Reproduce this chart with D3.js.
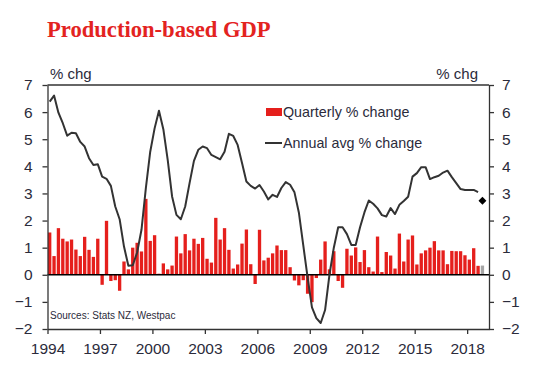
<!DOCTYPE html>
<html><head><meta charset="utf-8">
<script src="https://cdn.jsdelivr.net/npm/d3@7"></script>
<style>
body{margin:0;background:#fff;}
svg text{font-family:"Liberation Sans",Arial,sans-serif;}
</style></head>
<body><svg id="c" width="541" height="376"></svg>
<script>
// ---- data ----
const startYear = 1994;
const nCategories = 101; // 1994Q1 .. 2019Q1
const quarters = d3.range(nCategories).map(i => (startYear + Math.floor(i/4)) + "Q" + (i%4+1));
const quarterlyChange = [
 1.56,0.69,1.72,1.33,1.23,1.30,0.93,0.69,1.40,0.92,
 0.66,1.33,-0.37,1.99,-0.23,-0.20,-0.59,0.49,0.20,1.00,
 1.18,0.86,2.80,1.25,1.46,0.04,0.42,0.20,0.34,1.41,
 0.79,1.50,0.90,1.33,1.14,1.36,0.59,0.45,2.10,1.30,
 1.72,0.92,0.23,0.38,1.15,1.67,0.39,-0.34,1.66,0.53,
 0.63,0.79,1.08,0.91,0.91,0.28,-0.21,-0.39,-0.20,-0.70,
 -1.01,-0.12,0.56,1.23,0.20,0.87,-0.23,-0.48,0.96,0.71,
 1.01,0.47,0.91,0.28,0.12,1.41,0.10,0.84,0.71,0.23,
 1.52,0.49,1.30,1.45,0.38,0.79,0.90,1.00,1.24,0.90,
 0.90,0.39,0.88,0.87,0.87,0.72,0.56,0.98,0.33,0.34];
const forecastIndex = 99; // grey bar
const annualAvgChange = [
 6.39,6.61,5.98,5.59,5.13,5.24,5.22,4.90,4.73,4.30,
 4.05,4.08,3.62,3.54,3.28,2.52,2.05,1.04,0.33,0.35,
 0.82,1.66,3.20,4.54,5.40,6.05,5.37,4.24,2.89,2.21,
 2.05,2.52,3.38,4.20,4.61,4.73,4.67,4.42,4.34,4.26,
 4.54,5.20,5.12,4.79,4.12,3.44,3.28,3.18,3.31,3.07,
 2.78,2.95,2.87,3.20,3.42,3.32,3.04,2.30,1.10,-0.10,
 -1.20,-1.60,-1.78,-1.30,0.00,1.00,1.75,1.75,1.50,1.10,
 1.10,1.75,2.30,2.74,2.62,2.45,2.20,2.15,2.46,2.24,
 2.58,2.72,2.88,3.62,3.75,3.97,3.97,3.53,3.60,3.65,
 3.77,3.84,3.60,3.38,3.16,3.13,3.13,3.13,3.05];
const annualForecast = {index: 99, value: 2.73};
const yTicks = [-2,-1,0,1,2,3,4,5,6,7];
const xTickYears = [1994,1997,2000,2003,2006,2009,2012,2015,2018];
const legendLabels = ["Quarterly % change","Annual avg % change"];

// ---- layout ----
const L = 47.5, R = 489, T = 85, B = 329;
const svg = d3.select("#c");
const x = d3.scaleBand().domain(quarters).range([L, R]).paddingInner(0.24).paddingOuter(0.12);
const xt = d3.scaleLinear().domain([startYear, startYear + nCategories/4]).range([L, R]);
const y = d3.scaleLinear().domain([-2, 7]).range([B, T]);
const textCol = "#2b2b3b";

// title
svg.append("text").attr("x", 47).attr("y", 37).text("Production-based GDP")
  .attr("fill", "#e3231f").style("font-family", '"Liberation Serif","Times New Roman",serif')
  .style("font-weight", "bold").style("font-size", "22.6px");
svg.append("text").attr("x", 50).attr("y", 79).text("% chg").attr("fill", textCol).style("font-size", "15px");
svg.append("text").attr("x", 478).attr("y", 79).attr("text-anchor", "end").text("% chg").attr("fill", textCol).style("font-size", "15px");

// bars
svg.append("g").selectAll("rect").data(quarterlyChange).join("rect")
  .attr("x", (d,i) => x(quarters[i]))
  .attr("width", x.bandwidth())
  .attr("y", d => y(Math.max(0,d)))
  .attr("height", d => Math.abs(y(d) - y(0)))
  .attr("fill", (d,i) => i === forecastIndex ? "#a5a5a5" : "#e51f1c");

// zero line
svg.append("line").attr("x1", L).attr("x2", R).attr("y1", y(0)).attr("y2", y(0)).attr("stroke", "#000").attr("stroke-width", 1.5);

// annual line
const line = d3.line().x((d,i) => x(quarters[i]) + x.bandwidth()/2).y(d => y(d));
svg.append("path").datum(annualAvgChange).attr("d", line).attr("fill", "none")
  .attr("stroke", "#333").attr("stroke-width", 2).attr("stroke-linejoin", "round");

// forecast diamond
svg.append("path").attr("d", d3.symbol(d3.symbolDiamond2, 40)())
  .attr("transform", `translate(${x(quarters[annualForecast.index]) + x.bandwidth()/2},${y(annualForecast.value)})`)
  .attr("fill", "#000");

// frame top
svg.append("line").attr("x1", L).attr("x2", R).attr("y1", T).attr("y2", T).attr("stroke", "#333").attr("stroke-width", 1.3);

// axes
const styleAxis = g => {
  g.selectAll("path.domain").attr("stroke", "#333").attr("stroke-width", 1.3);
  g.selectAll(".tick line").attr("stroke", "#333").attr("stroke-width", 1.3);
  g.selectAll(".tick text").attr("fill", textCol).style("font-size", "15.5px").style("font-family", '"Liberation Sans",Arial,sans-serif');
};
svg.append("g").attr("transform", `translate(${L},0)`)
  .call(d3.axisLeft(y).tickValues(yTicks).tickSize(5).tickSizeOuter(0).tickPadding(10).tickFormat(d3.format("d")))
  .call(styleAxis);
svg.append("g").attr("transform", `translate(${R},0)`)
  .call(d3.axisRight(y).tickValues(yTicks).tickSize(5).tickSizeOuter(0).tickPadding(8).tickFormat(d3.format("d")))
  .call(styleAxis);
svg.append("g").attr("transform", `translate(0,${B})`)
  .call(d3.axisBottom(xt).tickValues(xTickYears).tickSize(5).tickSizeOuter(0).tickPadding(9).tickFormat(d3.format("d")))
  .call(styleAxis);

// source
svg.append("text").attr("x", 50).attr("y", 319).text("Sources: Stats NZ, Westpac").attr("fill", textCol).style("font-size", "10px");

// legend
const lg = svg.append("g");
lg.append("rect").attr("x", 266).attr("y", 108).attr("width", 16).attr("height", 8).attr("fill", "#e51f1c");
lg.append("text").attr("x", 283).attr("y", 117).text(legendLabels[0]).attr("fill", textCol).style("font-size", "14.3px");
lg.append("line").attr("x1", 265).attr("x2", 282).attr("y1", 143).attr("y2", 143).attr("stroke", "#333").attr("stroke-width", 2);
lg.append("text").attr("x", 283).attr("y", 148).text(legendLabels[1]).attr("fill", textCol).style("font-size", "14.3px");
</script></body></html>
